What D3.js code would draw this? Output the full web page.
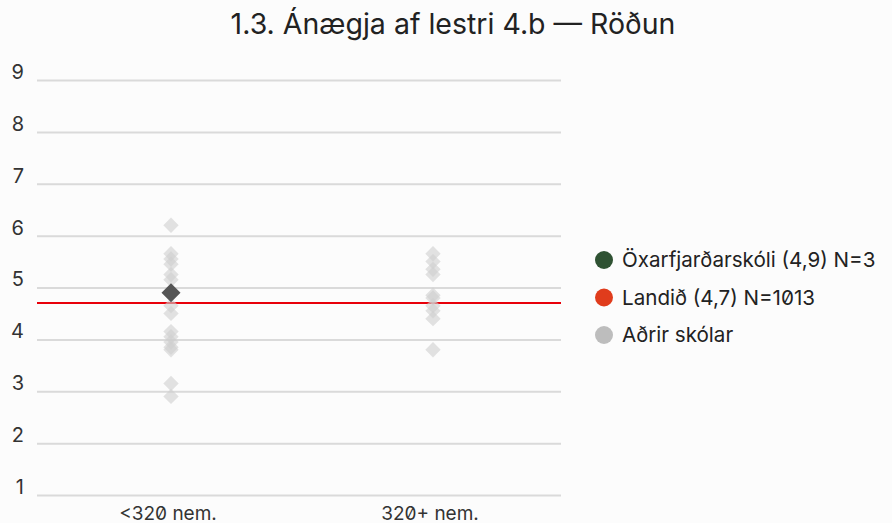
<!DOCTYPE html>
<html>
<head>
<meta charset="utf-8">
<script src="https://cdn.jsdelivr.net/npm/d3@7"></script>
<style>
  html, body { margin: 0; padding: 0; background: #fcfcfc; }
  svg { font-family: Inter, "Noto Sans", sans-serif; font-feature-settings: "zero" 1; }
</style>
</head>
<body>
<div id="chart"></div>
<script>
// categories on the x axis
const categories = ['<320 nem.', '320+ nem.'];
// other schools, one list per category (mean scores)
const othersSmall = [6.2, 5.65, 5.55, 5.45, 5.25, 5.15, 4.9, 4.65, 4.5, 4.15, 4.05, 3.95, 3.85, 3.8, 3.15, 2.9];
const othersLarge = [5.65, 5.5, 5.35, 5.25, 4.85, 4.8, 4.65, 4.55, 4.4, 3.8];
// the school itself
const schoolCategory = '<320 nem.';
const schoolValue = 4.9;
// national average
const nationalValue = 4.7;
const yTicks = [1, 2, 3, 4, 5, 6, 7, 8, 9];
const legendItems = [
  { label: 'Öxarfjarðarskóli (4,9) N=3', color: '#2f5233' },
  { label: 'Landið (4,7) N=1013', color: '#e03c1c' },
  { label: 'Aðrir skólar', color: '#bdbdbd' }
];
const title = '1.3. Ánægja af lestri 4.b — Röðun';

const width = 892, height = 523;
const margin = { top: 80, right: 331, bottom: 28, left: 37 };

const svg = d3.select('#chart').append('svg')
  .attr('width', width)
  .attr('height', height);

svg.append('rect').attr('width', width).attr('height', height).attr('fill', '#fcfcfc');

const x = d3.scaleBand()
  .domain(categories)
  .range([margin.left + 3, width - margin.right + 3]);

const y = d3.scaleLinear()
  .domain([1, 9])
  .range([height - margin.bottom, margin.top]);

// title
svg.append('text')
  .attr('x', 453)
  .attr('y', 34)
  .attr('text-anchor', 'middle')
  .attr('fill', '#222')
  .style('font-size', '28.5px')
  .text(title);

// gridlines + y labels
const yAxis = g => g
  .attr('transform', `translate(${margin.left},0)`)
  .call(d3.axisLeft(y).tickValues(yTicks).tickSize(-(width - margin.left - margin.right)).tickPadding(13).tickFormat(d3.format('d')))
  .attr('font-family', null)
  .attr('font-size', null)
  .call(g => g.select('.domain').remove())
  .call(g => g.selectAll('.tick line').attr('stroke', '#dadada').attr('stroke-width', 2))
  .call(g => g.selectAll('.tick text')
    .attr('fill', '#333')
    .attr('dy', '0.22em')
    .attr('y', -6)
    .style('font-size', '20px'));

svg.append('g').call(yAxis);

// x labels
const xAxis = g => g
  .attr('transform', `translate(-3,${height - margin.bottom})`)
  .call(d3.axisBottom(x).tickSize(0).tickPadding(12))
  .attr('font-family', null)
  .attr('font-size', null)
  .call(g => g.select('.domain').remove())
  .call(g => g.selectAll('.tick text').attr('fill', '#333').style('font-size', '19px'));

svg.append('g').call(xAxis);

// national line
svg.append('line')
  .attr('x1', margin.left)
  .attr('x2', width - margin.right)
  .attr('y1', y(nationalValue))
  .attr('y2', y(nationalValue))
  .attr('stroke', '#e8000a')
  .attr('stroke-width', 2);

const othersData = [];
othersSmall.forEach(v => othersData.push({ cat: categories[0], v }));
othersLarge.forEach(v => othersData.push({ cat: categories[1], v }));

const diamond = d3.symbol().type(d3.symbolDiamond2);

svg.append('g').selectAll('path').data(othersData).enter()
  .append('path')
  .attr('d', diamond.size(150)())
  .attr('transform', d => `translate(${x(d.cat) + x.bandwidth() / 2},${y(d.v)})`)
  .attr('fill', '#cfcfcf')
  .attr('fill-opacity', 0.6);

svg.append('path')
  .attr('d', diamond.size(230)())
  .attr('transform', `translate(${x(schoolCategory) + x.bandwidth() / 2},${y(schoolValue)})`)
  .attr('fill', '#555');

// legend
const legend = svg.append('g').attr('transform', 'translate(604,260)');
const rows = legend.selectAll('g').data(legendItems).enter()
  .append('g')
  .attr('transform', (d, i) => `translate(0,${i * 37.5})`);
rows.append('circle').attr('r', 9).attr('fill', d => d.color);
rows.append('text')
  .attr('x', 18)
  .attr('dy', '0.35em')
  .attr('fill', '#222')
  .style('font-size', '20.6px')
  .text(d => d.label);
</script>
</body>
</html>
